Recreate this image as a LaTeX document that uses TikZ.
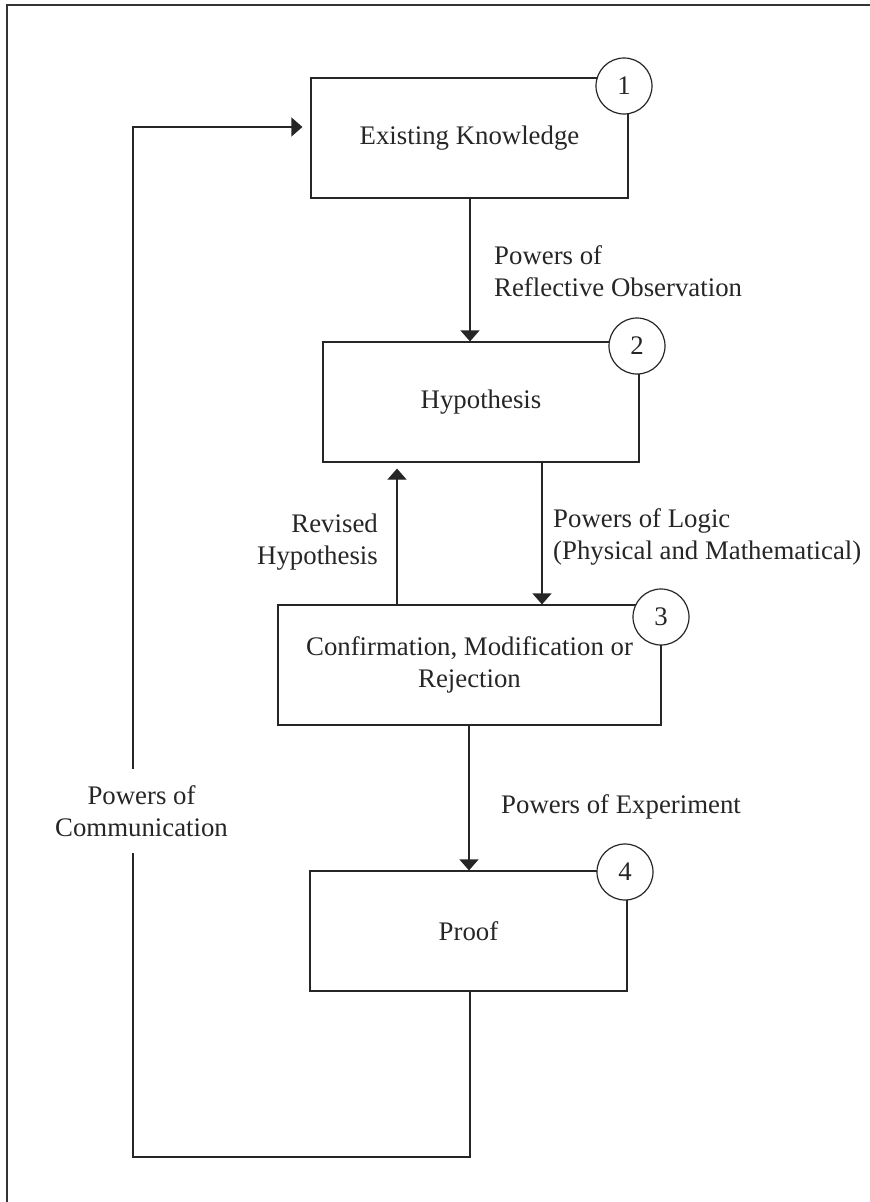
\documentclass[tikz,border=0pt]{standalone}
\usepackage{fontspec}
\setmainfont{Liberation Serif}
\usetikzlibrary{arrows.meta}
\begin{document}
\begin{tikzpicture}[x=1pt,y=-1pt,
  every node/.style={font=\fontsize{26.8}{32.5}\selectfont, text=black!85},
  box/.style={draw=black!85, line width=1.2pt, minimum height=120pt, inner sep=0pt, align=center},
  num/.style={draw=black!85, fill=white, circle, line width=1.2pt, minimum size=56pt, inner sep=0pt},
  lab/.style={inner sep=0pt},
  conn/.style={draw=black!85, line width=1.2pt},
  arr/.style={conn, -{Triangle[width=19pt,length=11pt]}}]
\useasboundingbox (0,0) rectangle (870,1202);
% frame
\draw[line width=1.6pt, black!80] (6.7,1202) -- (6.7,5) -- (870,5);
% boxes
\node[box, minimum width=317pt] (n1) at (469.5,138) {Existing Knowledge};
\node[box, minimum width=316pt] (n2) at (481,402) {Hypothesis};
\node[box, minimum width=383pt] (n3) at (469.5,665) {Confirmation, Modification or\\Rejection};
\node[box, minimum width=317pt] (n4) at (468.5,931) {Proof};
% numbered circles
\node[num] (c1) at (624,86) {1};
\node[num] (c2) at (637,346) {2};
\node[num] (c3) at (661,617) {3};
\node[num] (c4) at (625,872) {4};
% helper coordinates
\coordinate (xA) at (470,0);
\coordinate (xR) at (397,0);
\coordinate (xL) at (542,0);
\coordinate (xD) at (469,0);
\coordinate (loopBR) at (470,1157);
\coordinate (loopBL) at (133,1157);
\coordinate (loopTL) at (133,127);
% connectors
\draw[arr] (n1.south -| xA) -- (n2.north -| xA);
\draw[arr] (n2.south -| xL) -- (n3.north -| xL);
\draw[arr, shorten >=6pt] (n3.north -| xR) -- (n2.south -| xR);
\draw[arr] (n3.south -| xD) -- (n4.north -| xD);
\draw[arr, shorten >=8pt] (n4.south -| loopBR) -- (loopBR) -- (loopBL) -- (loopTL) -- (n1.west |- loopTL);
% labels
\node[lab, anchor=west, align=left] (l1) at (494,271) {Powers of\\Reflective Observation};
\node[lab, anchor=west, align=left] (l2) at (553,537) {Powers of Logic\\(Physical and Mathematical)};
\node[lab, anchor=east, align=right] (l3) at (378,542) {Revised\\Hypothesis};
\node[lab, anchor=west] (l4) at (501,807) {Powers of Experiment};
\node[lab, align=center, fill=white, minimum height=84pt] (l5) at (141.5,811) {Powers of\\Communication};
\end{tikzpicture}
\end{document}
